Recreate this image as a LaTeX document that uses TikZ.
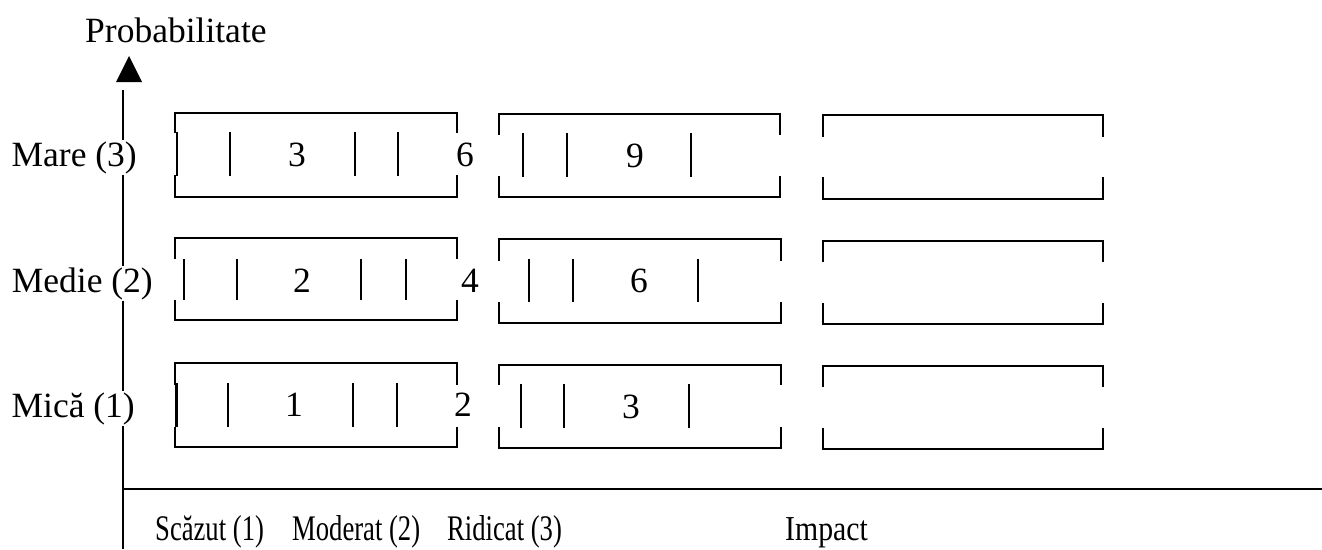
\documentclass[tikz,border=0pt]{standalone}
\usepackage{fontspec}
\setmainfont{Liberation Serif}
\usepackage{graphicx}

% frame of one cell: left, right, top, end of upper bracket, start of lower bracket, bottom
\newcommand\cellframe[6]{%
  \draw (#1,#4) -- (#1,#3) -- (#2,#3) -- (#2,#4);
  \draw (#1,#5) -- (#1,#6) -- (#2,#6) -- (#2,#5);}

\tikzset{
  rule/.style={line width=2.7pt},
  lbl/.style={font=\fontsize{35.5}{40}\selectfont, inner sep=0pt},
  axlbl/.style={lbl, inner ysep=1pt},
  num/.style={lbl, anchor=base},
  xlbl/.style={font=\fontsize{36}{40}\selectfont, inner sep=0pt, anchor=base west},
}

\begin{document}
\begin{tikzpicture}[x=1pt,y=-1pt]
\useasboundingbox (0,0) rectangle (1322,549);

\node[lbl, anchor=base west] (ptitle) at (85,42) {Probabilitate};

% probability levels
\node[axlbl, anchor=base east] (mare)  at (137,166) {Mare (3)};
\node[axlbl, anchor=base east] (medie) at (153,292) {Medie (2)};
\node[axlbl, anchor=base east] (mica)  at (135,417) {Mică (1)};

% impact levels
\node[xlbl] (scazut)  at (155,540) {\scalebox{0.74}[1]{Scăzut (1)}};
\node[xlbl] (moderat) at (292,540) {\scalebox{0.74}[1]{Moderat (2)}};
\node[xlbl] (ridicat) at (447,540) {\scalebox{0.74}[1]{Ridicat (3)}};
\node[xlbl, font=\fontsize{35}{40}\selectfont] (impact) at (785,540) {\scalebox{0.85}[1]{Impact}};

% axes: the vertical one stops at each level label
\coordinate (ytop) at (123,90);
\coordinate (ybot) at (123,549);
\coordinate (origin) at (123,489);
\coordinate (xend) at (1322,489);
\draw[rule] (ytop) -- (ytop |- mare.north);
\draw[rule] (ytop |- mare.south) -- (ytop |- medie.north);
\draw[rule] (ytop |- medie.south) -- (ytop |- mica.north);
\draw[rule] (ytop |- mica.south) -- (ybot);
\draw[rule] (origin) -- (xend);
\fill (116,82) -- (129,56) -- (142,82) -- cycle;

\begin{scope}[rule]
  % top row
  \cellframe{175}{457}{113}{133}{175}{197}
  \foreach \x in {177,230,355,398} \draw (\x,132) -- (\x,176);
  \cellframe{499}{780}{114}{135}{176}{197}
  \foreach \x in {523,567,691} \draw (\x,133) -- (\x,177);
  \cellframe{823}{1103}{115}{137}{177}{199}
  % middle row
  \cellframe{175}{457}{238}{259}{300}{320}
  \foreach \x in {184,237,361,406} \draw (\x,259) -- (\x,300);
  \cellframe{499}{781}{239}{261}{302}{323}
  \foreach \x in {529,573,698} \draw (\x,259) -- (\x,302);
  \cellframe{823}{1103}{241}{262}{303}{324}
  % bottom row
  \cellframe{175}{457}{363}{385}{427}{447}
  \foreach \x in {176.5,228,353,397} \draw (\x,383) -- (\x,427);
  \cellframe{499}{781}{365}{385}{427}{448}
  \foreach \x in {521,564,689} \draw (\x,384) -- (\x,428);
  \cellframe{823}{1103}{366}{387}{428}{449}
\end{scope}

% products probability x impact
\node[num] (v33) at (297,166) {3};
\node[num] (v36) at (465,166) {6};
\node[num] (v39) at (635,167) {9};
\node[num] (v22) at (302,292) {2};
\node[num] (v24) at (470,292) {4};
\node[num] (v26) at (639,292) {6};
\node[num] (v11) at (294,416) {1};
\node[num] (v12) at (463,416) {2};
\node[num] (v13) at (631,418) {3};
\end{tikzpicture}
\end{document}
